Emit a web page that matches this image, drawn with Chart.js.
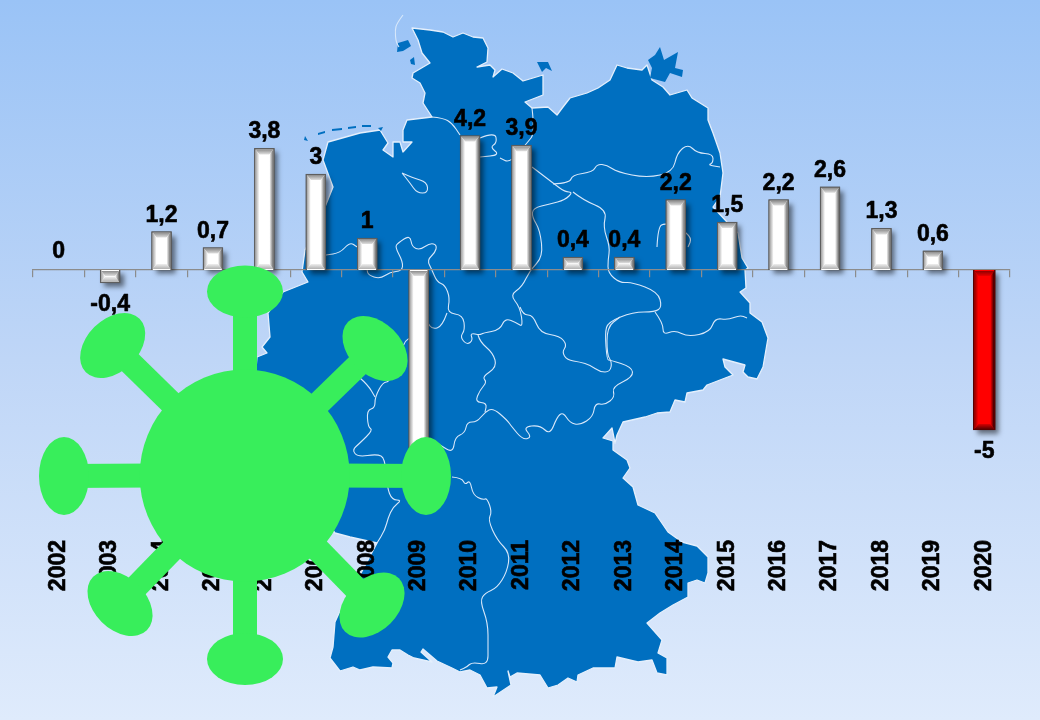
<!DOCTYPE html>
<html><head><meta charset="utf-8">
<style>html,body{margin:0;padding:0;background:#c6dbf8;overflow:hidden}canvas{display:block}</style>
<script src="https://cdn.jsdelivr.net/npm/chart.js@4"></script>
</head><body><canvas id="c" width="1040" height="720"></canvas>
<script>
const categories = ["2002","2003","2004","2005","2006","2007","2008","2009","2010","2011","2012","2013","2014","2015","2016","2017","2018","2019","2020"];
const regularValues = [0,-0.4,1.2,0.7,3.8,3,1,-5.7,4.2,3.9,0.4,0.4,2.2,1.5,2.2,2.6,1.3,0.6,null];
const crisisValues = [null,null,null,null,null,null,null,null,null,null,null,null,null,null,null,null,null,null,-5];

// Decorative backdrop: outline of Germany and its states
const mapOutline = [[412,28],[430,30],[443,32],[453,37],[463,33],[473,37],[483,38],[488,48],[487,62],[477,67],[490,65],[495,70],[493,77],[502,69],[513,73],[523,81],[543,75],[543,95],[525,102],[532,108],[548,107],[557,115],[563,107],[570,98],[587,93],[598,88],[610,80],[617,65],[627,68],[642,70],[647,65],[652,80],[663,87],[670,95],[687,90],[692,98],[708,108],[708,120],[713,133],[720,153],[723,173],[720,197],[713,207],[727,222],[738,233],[742,258],[748,268],[745,270],[746,288],[740,292],[750,303],[750,313],[762,322],[768,338],[763,367],[757,379],[748,377],[743,372],[745,365],[723,359],[725,367],[733,375],[707,385],[703,390],[687,393],[685,402],[675,400],[670,412],[657,413],[645,417],[623,422],[617,435],[615,443],[612,428],[603,438],[613,441],[613,450],[627,460],[630,468],[623,478],[633,487],[638,505],[655,513],[668,532],[682,542],[697,546],[708,557],[708,573],[705,583],[697,580],[688,583],[688,597],[673,605],[660,613],[647,623],[662,640],[658,653],[667,658],[667,675],[657,673],[652,660],[638,662],[617,657],[615,668],[593,668],[578,675],[577,682],[568,678],[558,685],[548,688],[540,675],[517,673],[510,677],[508,671],[511,685],[493,697],[497,687],[487,688],[480,675],[470,670],[460,672],[452,668],[437,661],[423,649],[421,652],[432,662],[414,658],[408,655],[400,650],[392,650],[388,657],[393,663],[392,668],[373,667],[360,670],[353,667],[340,671],[330,658],[333,647],[335,622],[345,600],[360,575],[377,543],[350,537],[335,533],[310,500],[290,470],[255,380],[257,357],[267,353],[262,347],[270,337],[268,313],[283,292],[308,282],[302,272],[305,250],[325,207],[333,187],[323,160],[328,142],[360,133],[380,130],[388,143],[383,150],[393,157],[393,142],[400,142],[403,152],[412,142],[403,142],[403,130],[407,120],[432,117],[423,103],[425,93],[420,83],[412,78],[413,73],[430,63],[422,53],[418,40]];
const mapIslands = [
 [[648,60],[655,55],[660,47],[664,60],[678,52],[675,68],[683,70],[682,77],[670,73],[665,82],[650,78],[652,68]],
 [[537,62],[548,62],[552,71],[546,68],[542,72]],
 [[398,43],[408,40],[411,46],[403,51],[397,52]],
 [[410,60],[414,57],[415,65],[411,64]],
 [[305,136],[308,141],[304,140]],[[318,133],[325,131],[325,133],[318,135]],[[332,129],[342,128],[342,130],[332,131]],[[348,127],[356,126],[356,128],[348,129]],[[362,125],[371,125],[371,127],[362,127]],[[378,128],[383,127],[381,131]]
];
const mapBorders = [
 [[403,15],[397,23],[395,30],[396,42],[399,47]],
 [[432,117],[443,118],[452,123],[460,135]],
 [[480,138],[495,132],[497,143],[490,147],[500,155],[480,157]],
 [[532,108],[535,133],[527,143],[510,163],[500,158]],
 [[532,167],[540,173],[553,183],[565,192],[573,192],[565,200],[550,204],[533,208],[532,217],[540,230],[543,257],[530,270],[522,287],[510,295],[520,307],[523,327],[517,323],[505,318],[500,330],[483,333],[480,335],[470,333],[473,340],[467,345],[460,337],[465,330],[463,315],[447,313],[450,298],[445,285],[437,282],[432,270],[427,260],[435,253],[437,245],[430,243],[420,250],[412,247],[410,235],[398,243],[395,247],[403,262],[402,271],[390,272],[380,279],[368,275],[367,269]],
 [[367,252],[357,247],[350,242],[340,253],[326,255]],
 [[553,184],[570,183],[572,175],[593,172],[597,164],[607,165],[617,172],[647,178],[673,172],[677,153],[688,144],[697,153],[713,154],[713,163],[708,165],[720,167]],
 [[573,192],[583,200],[607,210],[603,227],[610,247],[608,260],[608,273],[620,283],[632,282],[658,292],[662,307],[655,312],[633,312],[608,322],[605,333],[607,360],[610,360],[632,367],[633,377],[612,387],[615,397],[605,405],[595,403],[593,417],[580,425],[570,423],[563,412],[557,417],[550,435],[540,425],[523,427],[532,437],[523,440],[512,427],[507,420],[493,408],[485,412],[477,422],[467,422],[465,433],[455,437],[453,453],[440,445]],
 [[655,312],[663,323],[663,335],[675,330],[688,337],[710,332],[715,318],[728,320],[740,315],[747,318]],
 [[520,307],[523,315],[533,315],[540,333],[560,336],[567,345],[562,352],[567,360],[580,362],[590,365],[600,372],[610,372],[612,362],[607,355],[607,327],[620,317]],
 [[478,335],[480,342],[493,353],[497,367],[482,377],[487,382],[480,390],[475,402],[487,403],[485,412]],
 [[447,313],[442,327],[432,329],[428,323]],
 [[428,327],[408,338],[403,345],[390,382],[383,382],[375,397],[375,408],[367,410],[368,427],[373,430],[360,443],[352,450],[358,457],[377,454],[385,458],[387,487],[392,500],[402,500],[393,507],[388,518],[385,530],[377,543]],
 [[360,378],[368,385],[375,397]],
 [[452,477],[462,478],[465,485],[470,480],[473,495],[483,500],[487,498],[492,512],[488,520],[497,540],[510,553],[507,572],[497,588],[485,593],[480,601],[488,623],[488,647],[488,665],[472,662],[467,667],[460,670]],
 [[402,173],[413,178],[427,182],[428,193],[417,193],[410,183],[402,173]],
 [[657,247],[658,227],[665,223],[680,228],[692,238],[688,247]]
];
const virusColor = "#38EE5B";
const virusPods = [[245,291.5,38,26,0],[245,659,38,26,0],[64,476,25,39,0],[426,476,25,39,0],[112.7,345.5,38,26,-45],[375,348.5,38,26,45],[120,603.5,38,26,45],[372,605,38,26,-45]];

function poly(ctx,pts,close){ctx.beginPath();pts.forEach((p,i)=>i?ctx.lineTo(p[0],p[1]):ctx.moveTo(p[0],p[1]));if(close)ctx.closePath();}
function wiggle(ctx,pts){ctx.beginPath();ctx.moveTo(pts[0][0],pts[0][1]);
  for(let i=1;i<pts.length-1;i++){const mx=(pts[i][0]+pts[i+1][0])/2,my=(pts[i][1]+pts[i+1][1])/2;ctx.quadraticCurveTo(pts[i][0],pts[i][1],mx,my);}
  const e=pts[pts.length-1];ctx.lineTo(e[0],e[1]);}

const backdrop = {id:"backdrop",beforeDraw(chart){
  const ctx=chart.ctx;ctx.save();
  const g=ctx.createLinearGradient(0,0,0,720);
  g.addColorStop(0,"#9AC3F6");g.addColorStop(0.5,"#BFD6F7");g.addColorStop(1,"#DFEBFC");
  ctx.fillStyle=g;ctx.fillRect(0,0,1040,720);
  ctx.lineJoin="round";
  ctx.fillStyle="#006FC0";ctx.strokeStyle="#E4EFFC";ctx.lineWidth=1.3;
  poly(ctx,mapOutline,true);ctx.fill();ctx.stroke();
  mapIslands.forEach(p=>{poly(ctx,p,true);ctx.fill();});
  ctx.lineWidth=1.1;ctx.strokeStyle="#D8E8FA";
  mapBorders.forEach(p=>{wiggle(ctx,p);ctx.stroke();});
  ctx.restore();
}};

function eachBar(chart,fn){chart.data.datasets.forEach((d,i)=>{chart.getDatasetMeta(i).data.forEach((el,j)=>{const v=d.data[j];if(v===null||v===0)return;const p=el.getProps(["x","y","base","width"],true);fn(p,v,i);});});}
function facet(ctx,pts,grad){ctx.fillStyle=grad;poly(ctx,pts,true);ctx.fill();}
function lin(ctx,x0,y0,x1,y1,a,b){const g=ctx.createLinearGradient(x0,y0,x1,y1);g.addColorStop(0,a);g.addColorStop(1,b);return g;}

const bevel = {id:"bevel",
 beforeDatasetsDraw(chart){const ctx=chart.ctx;ctx.save();
  eachBar(chart,(p)=>{const t=Math.min(p.y,p.base),h=Math.abs(p.y-p.base);
   ctx.shadowColor="rgba(0,0,0,0.5)";ctx.shadowBlur=5;ctx.shadowOffsetX=4;ctx.shadowOffsetY=4;
   ctx.fillStyle="#444";ctx.fillRect(p.x-p.width/2,t,p.width,h);});
  ctx.restore();},
 afterDatasetsDraw(chart){const ctx=chart.ctx;ctx.save();
  eachBar(chart,(p,v,i)=>{const l=p.x-p.width/2+1,r=p.x+p.width/2-1,t=Math.min(p.y,p.base)+1,bt=Math.max(p.y,p.base)-1,bx=4,by=Math.min(5,(bt-t)/2);
   const c=i===0?{m:"#FFFFFF",lo:"#A0A0A0",ro:"#666666",to:"#8C8C8C",ti:"#E0E0E0",bo:"#B0B0B0",bi:"#EFEFEF"}:{m:"#FF0000",lo:"#8A0000",ro:"#2A0000",to:"#900000",ti:"#E80000",bo:"#600000",bi:"#D80000"};
   facet(ctx,[[l,t],[r,t],[r-bx,t+by],[l+bx,t+by]],lin(ctx,0,t,0,t+by,c.to,c.ti));
   facet(ctx,[[l,bt],[r,bt],[r-bx,bt-by],[l+bx,bt-by]],lin(ctx,0,bt,0,bt-by,c.bo,c.bi));
   facet(ctx,[[l,t],[l+bx,t+by],[l+bx,bt-by],[l,bt]],lin(ctx,l,0,l+bx,0,c.lo,c.m));
   facet(ctx,[[r,t],[r-bx,t+by],[r-bx,bt-by],[r,bt]],lin(ctx,r,0,r-bx,0,c.ro,c.m));
  });
  // value labels
  ctx.fillStyle="#000";ctx.strokeStyle="#000";ctx.lineWidth=0.6;ctx.lineJoin="round";ctx.font="bold 23px 'Liberation Sans'";ctx.textAlign="center";ctx.textBaseline="alphabetic";
  chart.data.datasets.forEach((d,i)=>{chart.getDatasetMeta(i).data.forEach((el,j)=>{const v=d.data[j];if(v===null)return;
   const p=el.getProps(["x","y"],true);const s=String(v).replace(".",",");
   const y=v<0?p.y+28:p.y-10-(v===0?2:0);ctx.fillText(s,p.x,y);ctx.strokeText(s,p.x,y);});});
  ctx.restore();}
};

const virus = {id:"virus",afterDraw(chart){const ctx=chart.ctx;ctx.save();
  ctx.fillStyle=virusColor;ctx.strokeStyle=virusColor;
  ctx.lineWidth=24;ctx.lineCap="butt";
  virusPods.forEach(p=>{ctx.beginPath();ctx.moveTo(245,475);ctx.lineTo(p[0],p[1]);ctx.stroke();});
  ctx.beginPath();ctx.ellipse(244.7,475.5,105,106,0,0,Math.PI*2);ctx.fill();
  virusPods.forEach(p=>{ctx.beginPath();ctx.ellipse(p[0],p[1],p[2],p[3],p[4]*Math.PI/180,0,Math.PI*2);ctx.fill();});
  ctx.restore();}};

new Chart(document.getElementById("c"),{
  type:"bar",
  data:{labels:categories,datasets:[
    {label:"Wachstum",data:regularValues,backgroundColor:"#FFFFFF",borderColor:"#5E5E5E",borderWidth:1.5,barThickness:20,grouped:false,xAxisID:"x",yAxisID:"y"},
    {label:"2020",data:crisisValues,backgroundColor:"#FF0000",borderColor:"#5A0000",borderWidth:1.5,barThickness:22,grouped:false,xAxisID:"x",yAxisID:"y"}
  ]},
  options:{
    responsive:false,animation:false,
    layout:{padding:{left:33,right:30,top:14,bottom:0}},
    plugins:{legend:{display:false},tooltip:{enabled:false},title:{display:false}},
    scales:{
      y:{display:false,min:-8,max:8},
      x:{position:"bottom",offset:true,grid:{display:false,drawTicks:false},border:{display:false},
         afterFit(s){s.height=194;},
         ticks:{autoSkip:false,minRotation:90,maxRotation:90,padding:14,color:"#000",textStrokeColor:"#000",textStrokeWidth:0.6,font:{family:"'Liberation Sans'",size:23,weight:"bold"}}},
      x2:{type:"category",labels:categories,position:{y:0},offset:true,
         afterFit(s){s.height=0;},
         grid:{display:true,offset:true,drawOnChartArea:false,drawTicks:true,tickLength:7,color:"#8C8C8C",lineWidth:1.2},
         border:{display:true,color:"#8C8C8C",width:1.2},
         ticks:{display:false}}
    }
  },
  plugins:[backdrop,bevel,virus]
});
</script></body></html>
